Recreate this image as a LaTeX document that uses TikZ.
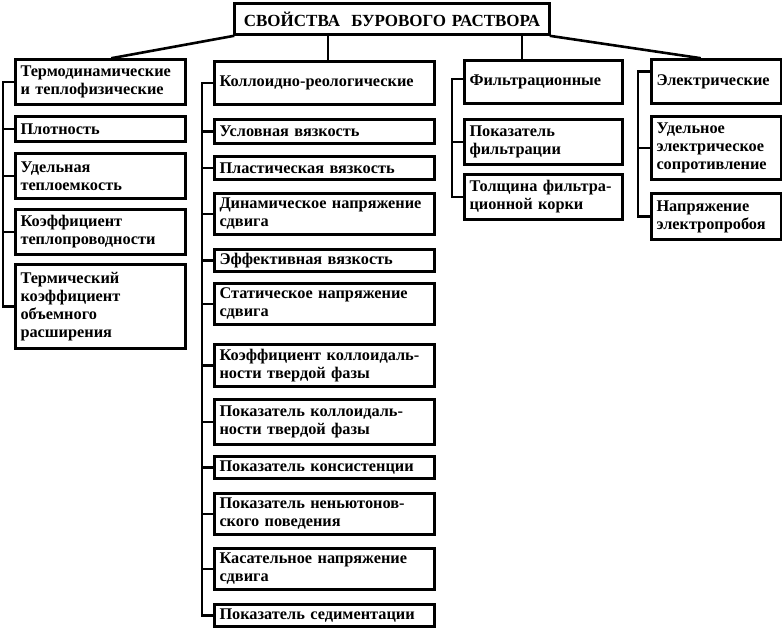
\documentclass[tikz,border=0pt]{standalone}
\usepackage{fontspec}
\setmainfont{Liberation Serif}
\begin{document}
\begin{tikzpicture}[x=1pt,y=-1pt,
  box/.style={draw, line width=3pt, anchor=north west, inner xsep=5pt, inner ysep=0pt,
    align=left, font=\bfseries\fontsize{16.3}{18}\selectfont},
  conn/.style={line width=2.6pt, line cap=rect}]
\useasboundingbox (0,0) rectangle (782,629);
% title
\node[box, minimum width=315, minimum height=31, align=center, text width=305,
  font=\bfseries\fontsize{17}{20}\selectfont] (title) at (233,2) {СВОЙСТВА~~БУРОВОГО РАСТВОРА};
% column 1
\node[box, minimum width=168, minimum height=45, text width=160] (t1) at (14,58) {Термодинамические\\и теплофизические};
\node[box, minimum width=168, minimum height=25, text width=160] (p1) at (14,115) {Плотность};
\node[box, minimum width=168, minimum height=45, text width=160] (u1) at (14,152) {Удельная\\теплоемкость};
\node[box, minimum width=168, minimum height=45, text width=160] (k1) at (14,208) {Коэффициент\\теплопроводности};
\node[box, minimum width=168, minimum height=84, text width=160] (r1) at (14,263) {Термический\\коэффициент\\объемного\\расширения};
% column 2
\node[box, minimum width=218, minimum height=43, text width=210] (c0) at (213,60) {Коллоидно-реологические};
\node[box, minimum width=218, minimum height=24, text width=210] (c1) at (213,118) {Условная вязкость};
\node[box, minimum width=218, minimum height=23, text width=210] (c2) at (213,155) {Пластическая вязкость};
\node[box, minimum width=218, minimum height=41, text width=210] (c3) at (213,192) {Динамическое напряжение\\сдвига};
\node[box, minimum width=218, minimum height=22, text width=210] (c4) at (213,248) {Эффективная вязкость};
\node[box, minimum width=218, minimum height=41, text width=210] (c5) at (213,282) {Статическое напряжение\\сдвига};
\node[box, minimum width=218, minimum height=42, text width=210] (c6) at (213,343) {Коэффициент коллоидаль-\\ности твердой фазы};
\node[box, minimum width=218, minimum height=45, text width=210] (c7) at (213,398) {Показатель коллоидаль-\\ности твердой фазы};
\node[box, minimum width=218, minimum height=22, text width=210] (c8) at (213,455) {Показатель консистенции};
\node[box, minimum width=218, minimum height=41, text width=210] (c9) at (213,492) {Показатель неньютонов-\\ского поведения};
\node[box, minimum width=218, minimum height=41, text width=210] (c10) at (213,547) {Касательное напряжение\\сдвига};
\node[box, minimum width=218, minimum height=22, text width=210] (c11) at (213,603) {Показатель седиментации};
% column 3
\node[box, minimum width=156, minimum height=43, text width=148] (f0) at (463,59) {Фильтрационные};
\node[box, minimum width=156, minimum height=45, text width=148] (f1) at (463,118) {Показатель\\фильтрации};
\node[box, minimum width=156, minimum height=45, text width=148] (f2) at (463,173) {Толщина фильтра-\\ционной корки};
% column 4
\node[box, minimum width=128, minimum height=44, text width=120] (e0) at (650,58) {Электрические};
\node[box, minimum width=128, minimum height=63, text width=120] (e1) at (650,115) {Удельное\\электрическое\\сопротивление};
\node[box, minimum width=128, minimum height=46, text width=120] (e2) at (650,192) {Напряжение\\электропробоя};
% bus coordinates
\coordinate (b1) at (3,0);
\coordinate (b2) at (202,0);
\coordinate (b3) at (452,0);
\coordinate (b4) at (638,0);
\coordinate (v2) at (328,0);
\coordinate (v3) at (522,0);
% top connectors
\draw[conn] (title.south west) -- ([xshift=12pt]t1.north);
\draw[conn] (title.south -| v2) -- (c0.north -| v2);
\draw[conn] (title.south -| v3) -- (f0.north -| v3);
\draw[conn] (title.south east) -- ([xshift=-17pt]e0.north);
% column 1 bus
\draw[conn] (t1.west) -- (t1.west -| b1) -- (r1.west -| b1) -- (r1.west);
\foreach \n in {p1,u1,k1} \draw[conn] (\n.west) -- (\n.west -| b1);
% column 2 bus
\draw[conn] (c0.west) -- (c0.west -| b2) -- (c11.west -| b2) -- (c11.west);
\foreach \n in {c1,c2,c3,c4,c5,c6,c7,c8,c9,c10} \draw[conn] (\n.west) -- (\n.west -| b2);
% column 3 bus
\draw[conn] ([yshift=3pt]f0.west) -- ([yshift=3pt]f0.west -| b3) -- (f2.west -| b3) -- (f2.west);
\draw[conn] (f1.west) -- (f1.west -| b3);
% column 4 bus
\draw[conn] ([yshift=10pt]e0.west) -- ([yshift=10pt]e0.west -| b4) -- (e2.west -| b4) -- (e2.west);
\draw[conn] (e1.west) -- (e1.west -| b4);
\end{tikzpicture}
\end{document}
